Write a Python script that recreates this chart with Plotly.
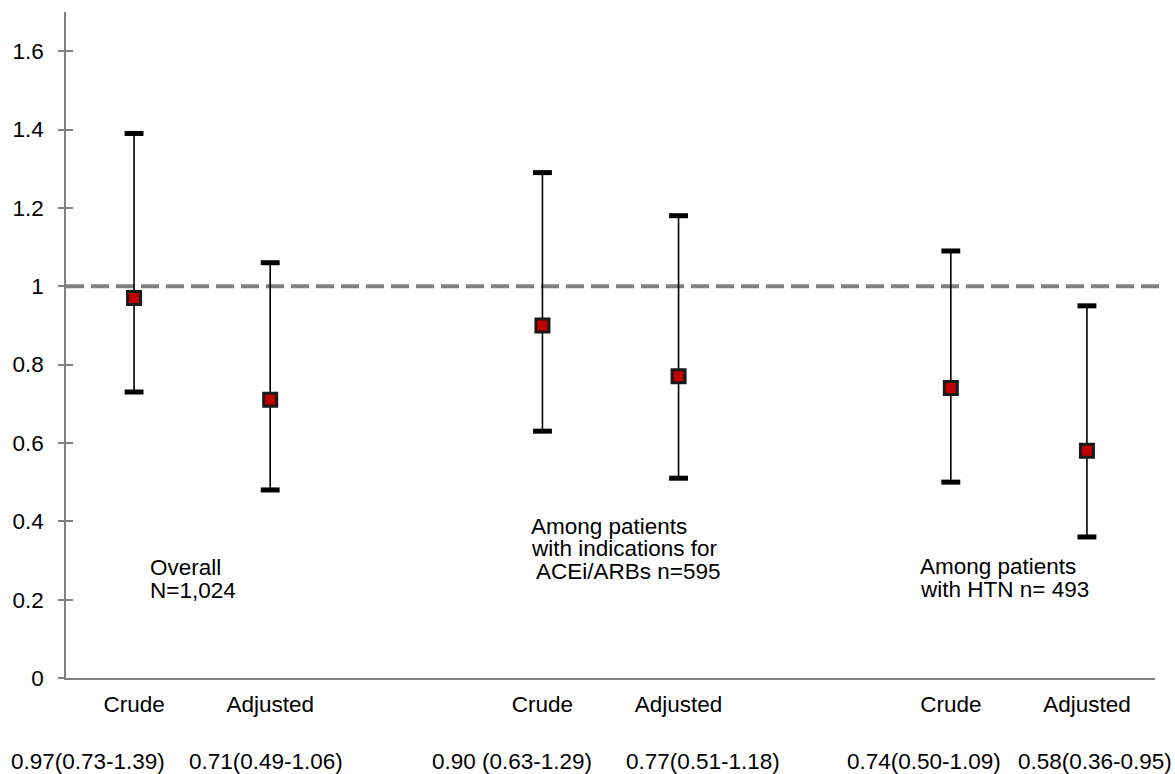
import plotly.graph_objects as go

# ---- data ----
categories = ["Crude", "Adjusted", "Crude", "Adjusted", "Crude", "Adjusted"]
slots = [0, 1, 3, 4, 6, 7]          # slot index along the x axis (8 slots)
estimates = [0.97, 0.71, 0.90, 0.77, 0.74, 0.58]
lower = [0.73, 0.48, 0.63, 0.51, 0.50, 0.36]
upper = [1.39, 1.06, 1.29, 1.18, 1.09, 0.95]
ci_labels = ["0.97(0.73-1.39)", "0.71(0.49-1.06)", "0.90 (0.63-1.29)",
             "0.77(0.51-1.18)", "0.74(0.50-1.09)", "0.58(0.36-0.95)"]
ci_label_x = [0.16, 1.47, 3.28, 4.68, 6.30, 7.56]
y_ticks = [0, 0.2, 0.4, 0.6, 0.8, 1.0, 1.2, 1.4, 1.6]
y_tick_text = ["0", "0.2", "0.4", "0.6", "0.8", "1", "1.2", "1.4", "1.6"]
group_lines = [
    ("Overall", 0.60, 0.282),
    ("N=1,024", 0.60, 0.224),
    ("Among patients", 3.40, 0.388),
    ("with indications for", 3.40, 0.330),
    (" ACEi/ARBs n=595", 3.40, 0.271),
    ("Among patients", 6.26, 0.284),
    ("with HTN n= 493", 6.26, 0.226),
]
reference_value = 1.0

FONT = "Arial, Liberation Sans, sans-serif"
FS = 22.5

x = [s + 0.5 for s in slots]
err_plus = [u - e for u, e in zip(upper, estimates)]
err_minus = [e - l for e, l in zip(estimates, lower)]

fig = go.Figure()

# whiskers (stems)
fig.add_trace(go.Scatter(
    x=x, y=estimates, mode="markers",
    marker=dict(size=1, color="rgba(0,0,0,0)"),
    error_y=dict(type="data", symmetric=False, array=err_plus, arrayminus=err_minus,
                 color="black", thickness=1.6, width=0),
    showlegend=False, hoverinfo="skip"))

# caps
fig.add_trace(go.Scatter(
    x=x + x, y=upper + lower, mode="markers",
    marker=dict(symbol="line-ew", size=13.5, line=dict(width=5, color="black")),
    showlegend=False, hoverinfo="skip"))

# reference line
fig.add_shape(type="line", xref="paper", x0=0, x1=1.004, yref="y",
              y0=reference_value, y1=reference_value,
              line=dict(color="#808080", width=4, dash="18px,7px"), layer="below")

# point estimates
fig.add_trace(go.Scatter(
    x=x, y=estimates, mode="markers",
    marker=dict(symbol="square", size=13, color="#C00000",
                line=dict(width=3, color="#1a1a1a")),
    showlegend=False))

# invisible trace for second y axis (cross ticks)
fig.add_trace(go.Scatter(x=[x[0]], y=[estimates[0]], yaxis="y2", mode="markers",
                         marker=dict(size=1, color="rgba(0,0,0,0)"),
                         showlegend=False, hoverinfo="skip"))

for txt, cx in zip(ci_labels, ci_label_x):
    fig.add_annotation(text=txt, x=cx, xref="x", y=-0.125, yref="paper",
                       xanchor="center", yanchor="middle", showarrow=False,
                       font=dict(family=FONT, size=FS, color="black"))

for txt, gx, gy in group_lines:
    fig.add_annotation(text=txt, x=gx, xref="x", y=gy, yref="y",
                       xanchor="left", yanchor="middle", showarrow=False,
                       font=dict(family=FONT, size=FS, color="black"))

fig.update_layout(
    width=1175, height=774,
    margin=dict(l=63, r=20, t=12, b=96),
    paper_bgcolor="white", plot_bgcolor="white",
    font=dict(family=FONT, size=FS, color="black"),
    xaxis=dict(range=[0, 8], showgrid=False, zeroline=False, showline=True,
               linecolor="#808080", linewidth=1.5, ticks="",
               tickvals=x, ticktext=categories, ticklabelstandoff=5,
               tickfont=dict(family=FONT, size=FS, color="black")),
    yaxis=dict(range=[0, 1.70], showgrid=False, zeroline=False, showline=True,
               linecolor="#808080", linewidth=1.5, ticks="outside", ticklen=6,
               tickcolor="#808080", tickwidth=1.5,
               tickvals=y_ticks, ticktext=y_tick_text, ticklabelstandoff=10,
               tickfont=dict(family=FONT, size=FS, color="black")),
    yaxis2=dict(range=[0, 1.70], overlaying="y", side="left", showgrid=False,
                zeroline=False, showline=False, ticks="inside", ticklen=7,
                tickcolor="#808080", tickwidth=1.5, tickvals=y_ticks,
                showticklabels=False),
)

fig.write_html("out.html", config={"displayModeBar": False},
               post_script="document.body.style.margin='0';document.body.style.overflow='hidden';")
